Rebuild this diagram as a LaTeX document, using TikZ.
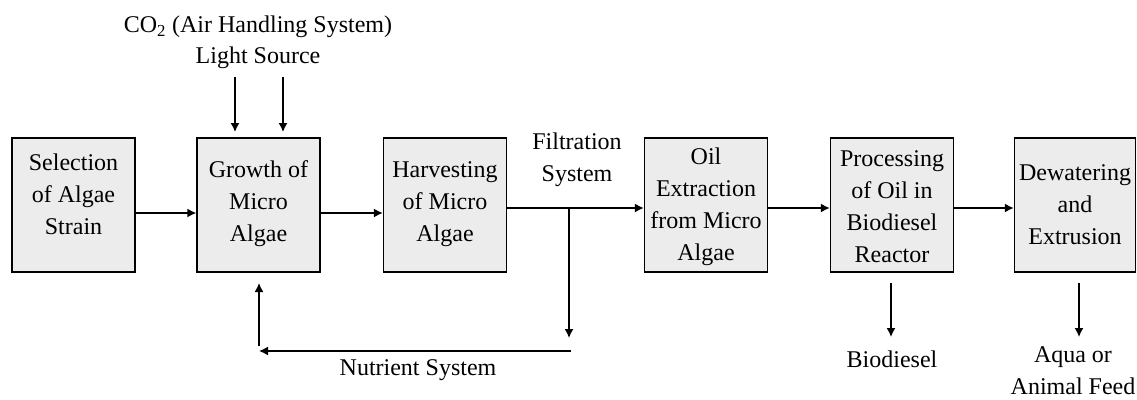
\documentclass[tikz,border=0pt]{standalone}
\usepackage{fontspec}
\setmainfont{Liberation Serif}
\usetikzlibrary{arrows.meta,calc}
\begin{document}
\begin{tikzpicture}[x=1pt,y=-1pt,
  box/.style={draw=black, line width=1.3pt, fill=gray!15, minimum width=123pt, minimum height=134pt, inner sep=0pt},
  txt/.style={align=center, inner sep=0pt, font=\fontsize{24}{32}\selectfont},
  arr/.style={line width=1.5pt, -{Latex[length=9pt,width=9pt]}},
  ln/.style={line width=1.5pt}]
\useasboundingbox (0,0) rectangle (1137,399);
% boxes
\node[box] (b1) at (73.5,205) {};
\node[box] (b2) at (258.5,205) {};
\node[box] (b3) at (445,205) {};
\node[box] (b4) at (706,205) {};
\node[box] (b5) at (892,205) {};
\node[box, minimum width=121pt] (b6) at (1075,205) {};
% box texts
\node[txt] (t1) at (73.5,194) {Selection\\of Algae\\Strain};
\node[txt] (t2) at (258.5,204) {Growth of\\Micro\\Algae};
\node[txt] (t3) at (445,204) {Harvesting\\of Micro\\Algae};
\node[txt] (t4) at (706,207) {Oil\\Extraction\\from Micro\\Algae};
\node[txt] (t5) at (892,207) {Processing\\of Oil in\\Biodiesel\\Reactor};
\node[txt] (t6) at (1075,205) {Dewatering\\and\\Extrusion};
% helper coordinates
\coordinate (ya) at (0,213);
\coordinate (yb) at (0,208);
\coordinate (j) at (569,208);
\coordinate (jd) at (569,338);
\coordinate (fs) at (571,351);
\coordinate (fe) at (259,351);
\coordinate (us) at (259,346);
\coordinate (ue) at (259,283);
\coordinate (c1s) at (235,77);
\coordinate (c1e) at (235,132);
\coordinate (c2s) at (283,77);
\coordinate (c2e) at (283,132);
\coordinate (d1s) at (891,283);
\coordinate (d1e) at (891,337);
\coordinate (d2s) at (1079,283);
\coordinate (d2e) at (1079,337);
% main flow
\draw[arr] (b1.east |- ya) -- (b2.west |- ya);
\draw[arr] (b2.east |- ya) -- (b3.west |- ya);
\draw[arr] (b3.east |- yb) -- (b4.west |- yb);
\draw[arr] (b4.east |- yb) -- (b5.west |- yb);
\draw[arr] (b5.east |- yb) -- (b6.west |- yb);
% filtration / nutrient loop
\draw[arr] (j) -- (jd);
\draw[arr] (fs) -- (fe);
\draw[arr] (us) -- (ue);
% inputs
\draw[arr] (c1s) -- (c1e);
\draw[arr] (c2s) -- (c2e);
% outputs
\draw[arr] (d1s) -- (d1e);
\draw[arr] (d2s) -- (d2e);
% labels
\node[txt] (co2) at (258,27) {CO\textsubscript{2} (Air Handling System)};
\node[txt] (light) at (258,58) {Light Source};
\node[txt] (filt) at (577,160) {Filtration\\System};
\node[txt] (nut) at (418,370) {Nutrient System};
\node[txt] (bio) at (892,359) {Biodiesel};
\node[txt] (feed) at (1073,370.5) {Aqua or\\Animal Feed};
\end{tikzpicture}
\end{document}
